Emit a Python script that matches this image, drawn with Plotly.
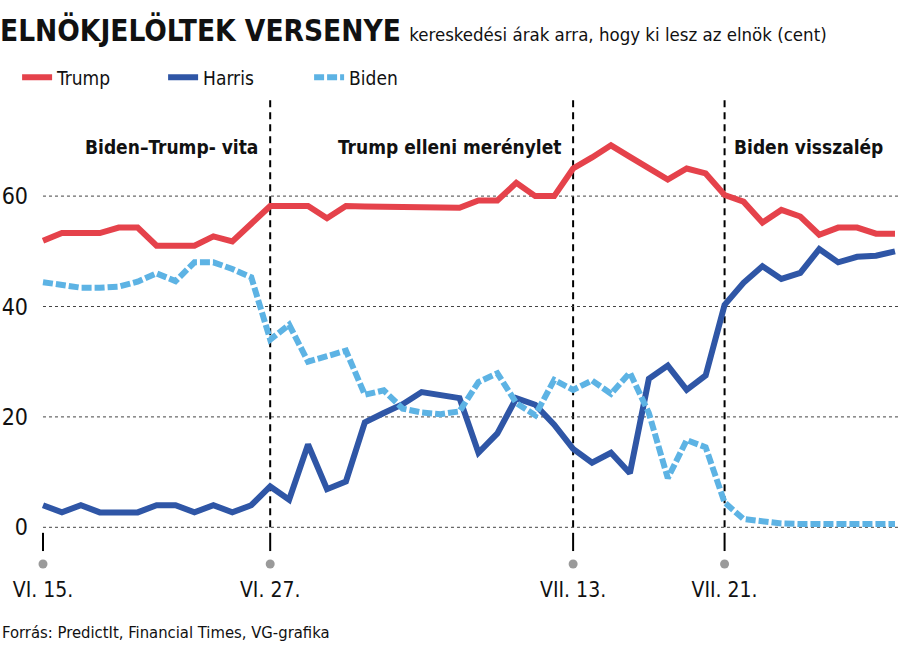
import pandas as pd
import plotly.graph_objects as go

dates = pd.date_range("2024-06-15", "2024-07-30", freq="D")

trump = [51.9, 53.3, 53.3, 53.3, 54.3, 54.3, 51.0, 51.0, 51.0, 52.7, 51.8, 55.0,
         58.2, 58.2, 58.2, 56.0, 58.2, 58.1, 58.1, 58.0, 58.0, 57.9, 57.9, 59.2,
         59.2, 62.4, 60.0, 60.0, 65.0, 67.0, 69.2, 67.1, 65.0, 63.0, 65.0, 64.1,
         60.2, 59.0, 55.2, 57.5, 56.3, 53.0, 54.3, 54.3, 53.2, 53.2]
harris = [4.0, 2.7, 4.0, 2.7, 2.7, 2.7, 4.0, 4.0, 2.7, 4.0, 2.7, 4.0,
          7.4, 5.0, 15.0, 6.9, 8.3, 19.0, 20.7, 22.3, 24.5, 24.0, 23.4, 13.5,
          17.0, 23.4, 22.2, 18.6, 14.2, 11.7, 13.5, 9.8, 26.9, 29.3, 24.9, 27.5,
          40.3, 44.3, 47.3, 45.0, 46.1, 50.4, 48.0, 49.0, 49.2, 50.0]
biden = [44.4, 43.8, 43.4, 43.4, 43.6, 44.5, 46.0, 44.6, 48.0, 48.0, 46.8, 45.3,
         34.0, 36.7, 30.0, 31.0, 32.0, 24.0, 24.8, 21.5, 20.8, 20.5, 21.0, 26.3,
         27.9, 22.5, 20.3, 26.7, 24.9, 26.6, 24.2, 28.0, 20.7, 8.9, 15.8, 14.5,
         4.5, 1.5, 1.0, 0.7, 0.6, 0.6, 0.6, 0.6, 0.6, 0.6]

tick_dates = ["2024-06-15", "2024-06-27", "2024-07-13", "2024-07-21"]
tick_labels = ["VI. 15.", "VI. 27.", "VII. 13.", "VII. 21."]
event_dates = ["2024-06-27", "2024-07-13", "2024-07-21"]
event_labels = ["Biden–Trump- vita", "Trump elleni merénylet", "Biden visszalép"]
y_ticks = [0, 20, 40, 60]

FONT = "DejaVu Sans Condensed, Liberation Sans Narrow, sans-serif"
RED = "#E5424B"
DBLUE = "#2F56A6"
LBLUE = "#5DB3E4"

Y_MIN, Y_MAX = -8.46, 77.41
X_START, X_END = "2024-06-14 07:32", "2024-07-30 03:50"
L = 30
PW = 900 - L - 2
PX0 = -L / PW  # paper x of the left page edge

fig = go.Figure()
fig.add_trace(go.Scatter(x=dates, y=trump, name="Trump", mode="lines",
                         line=dict(color=RED, width=6), hoverinfo="skip"))
fig.add_trace(go.Scatter(x=dates, y=harris, name="Harris", mode="lines",
                         line=dict(color=DBLUE, width=6), hoverinfo="skip"))
fig.add_trace(go.Scatter(x=dates, y=biden, name="Biden", mode="lines",
                         line=dict(color=LBLUE, width=6, dash="10px,3px"), hoverinfo="skip"))
# grey dots under the ticks
fig.add_trace(go.Scatter(x=pd.to_datetime(tick_dates), y=[-6.65] * len(tick_dates),
                         mode="markers", marker=dict(color="#9a9a9a", size=9),
                         showlegend=False, hoverinfo="skip"))

shapes = []
for d in tick_dates:
    shapes.append(dict(type="line", xref="x", yref="y", x0=d, x1=d, y0=-1.0, y1=-4.3,
                       line=dict(color="black", width=2)))
for d in event_dates:
    shapes.append(dict(type="line", xref="x", yref="y", x0=d, x1=d, y0=0, y1=Y_MAX,
                       line=dict(color="black", width=2, dash="7px,5px"), layer="below"))
for v in y_ticks:
    shapes.append(dict(type="line", xref="x", yref="y", x0=tick_dates[0], x1=X_END, y0=v, y1=v,
                       line=dict(color="#444", width=1, dash="3px,3px"), layer="below"))

annotations = []
anch = ["right", "right", "left"]
offs = [-10, -10, 7]
for d, t, a, o in zip(event_dates, event_labels, anch, offs):
    annotations.append(dict(x=d, y=0.9008, xref="x", yref="paper", yanchor="middle",
                            text="<b>" + t + "</b>", showarrow=False, xanchor=a, xshift=o,
                            font=dict(size=19, color="#111", family=FONT)))
annotations.append(dict(x=PX0, y=-0.1224, xref="paper", yref="paper", xanchor="left",
                        yanchor="middle", showarrow=False,
                        text="Forrás: PredictIt, Financial Times, VG-grafika",
                        font=dict(size=16.5, color="#111", family=FONT)))
annotations.append(dict(x=PX0, y=1.148, xref="paper", yref="paper", xanchor="left",
                        yanchor="middle", showarrow=False, xshift=-2,
                        text="<b>ELNÖKJELÖLTEK VERSENYE</b> <span style='font-size:18.5px'>kereskedési árak arra, hogy ki lesz az elnök (cent)</span>",
                        font=dict(size=29.5, color="#111", family=FONT)))

fig.update_layout(
    width=900, height=655,
    margin=dict(l=L, r=2, t=100, b=81, autoexpand=False),
    paper_bgcolor="white", plot_bgcolor="white",
    font=dict(family=FONT, color="#111"),
    legend=dict(orientation="h", x=0.019, xref="container", y=0.882, yref="container",
                yanchor="middle", xanchor="left",
                entrywidth=101, entrywidthmode="pixels",
                font=dict(size=19, family=FONT, color="#111"), bgcolor="rgba(0,0,0,0)"),
    xaxis=dict(range=[X_START, X_END], showgrid=False, automargin=False,
               zeroline=False, showline=False, tickvals=tick_dates, ticktext=tick_labels,
               ticks="", ticklabelstandoff=1, tickfont=dict(size=21, family=FONT, color="#111")),
    yaxis=dict(range=[Y_MIN, Y_MAX], showgrid=False, zeroline=False, showline=False, automargin=False,
               tickvals=y_ticks, ticks="", ticklabelstandoff=1,
               tickfont=dict(size=23, family=FONT, color="#111")),
    shapes=shapes, annotations=annotations, showlegend=True,
)

fig.write_html("out.html", config={"displayModeBar": False},
               post_script="document.body.style.margin='0';document.body.style.padding='0';document.body.style.overflow='hidden';")
